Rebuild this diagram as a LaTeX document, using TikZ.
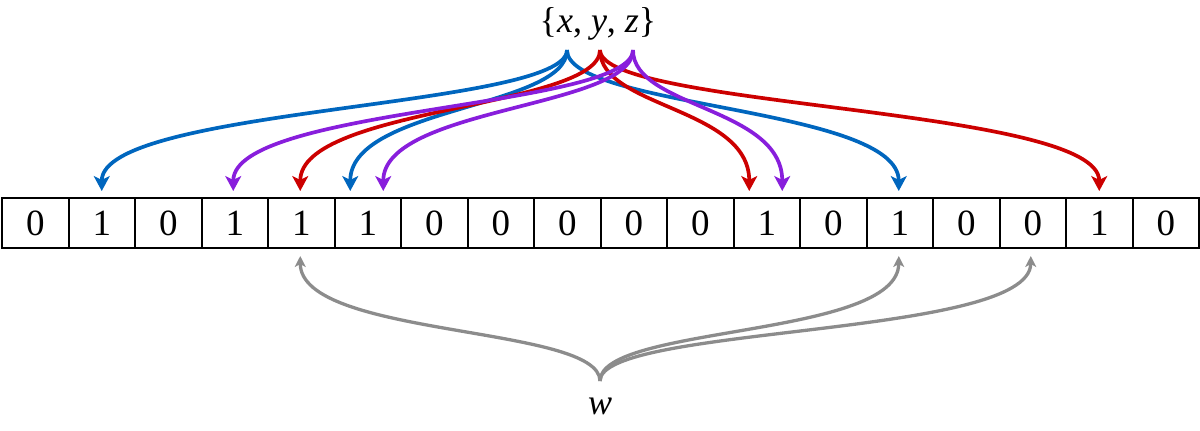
\documentclass[tikz,border=0pt]{standalone}
\usepackage{fontspec}
\setmainfont{Liberation Serif}
\usetikzlibrary{arrows.meta}
\definecolor{hblue}{RGB}{0,102,190}
\definecolor{hred}{RGB}{204,0,0}
\definecolor{hpurple}{RGB}{136,30,220}
\definecolor{hgray}{RGB}{140,140,140}
\tikzset{
  cell/.style={draw=black, line width=2pt, minimum width=66.5pt, minimum height=50pt,
    inner sep=0pt, font=\fontsize{37}{40}\selectfont},
  label/.style={font=\fontsize{36}{40}\selectfont, inner sep=0pt},
  hasharrow/.style={line width=3.7pt, -{Stealth[length=15pt,width=16pt,inset=4pt]}},
  queryarrow/.style={line width=3.3pt, draw=hgray, -{Stealth[length=11pt,width=11pt,inset=3pt]}},
}
\begin{document}
\begin{tikzpicture}[x=1pt,y=-1pt]
\useasboundingbox (0,0) rectangle (1200,431);
\foreach \b [count=\i from 0] in {0,1,0,1,1,1,0,0,0,0,0,1,0,1,0,0,1,0}{
  \node[cell] (c\i) at ({2+66.5*(\i+0.5)},223) {\b};
}
\node[label] (set) at (598,24) {\{\textit{x}, \textit{y}, \textit{z}\}};
\coordinate (sx) at (567,50);
\coordinate (sy) at (600,50);
\coordinate (sz) at (633,50);
\coordinate (w) at (600,381);
\node[label] (wl) at (600,406) {\textit{w}};
% x (blue)
\draw[hasharrow, hblue] (sx) .. controls +(0,58) and +(0,-84) .. ([yshift=6pt]c1.north);
\draw[hasharrow, hblue] (sx) .. controls +(0,58) and +(0,-84) .. ([xshift=-17.5pt,yshift=6pt]c5.north);
\draw[hasharrow, hblue] (sx) .. controls +(0,58) and +(0,-84) .. ([xshift=-1pt,yshift=6pt]c13.north);
% y (red)
\draw[hasharrow, hred] (sy) .. controls +(0,58) and +(0,-84) .. ([xshift=-1pt,yshift=6pt]c4.north);
\draw[hasharrow, hred] (sy) .. controls +(0,58) and +(0,-84) .. ([xshift=-17.5pt,yshift=6pt]c11.north);
\draw[hasharrow, hred] (sy) .. controls +(0,58) and +(0,-84) .. ([yshift=6pt]c16.north);
% z (purple)
\draw[hasharrow, hpurple] (sz) .. controls +(0,58) and +(0,-84) .. ([xshift=-1.5pt,yshift=6pt]c3.north);
\draw[hasharrow, hpurple] (sz) .. controls +(0,58) and +(0,-84) .. ([xshift=15.5pt,yshift=6pt]c5.north);
\draw[hasharrow, hpurple] (sz) .. controls +(0,58) and +(0,-84) .. ([xshift=15.5pt,yshift=6pt]c11.north);
% w (gray)
\draw[queryarrow] (w) .. controls +(0,-56) and +(0,82) .. ([xshift=-1pt,yshift=-7pt]c4.south);
\draw[queryarrow] (w) .. controls +(0,-56) and +(0,82) .. ([xshift=-1pt,yshift=-7pt]c13.south);
\draw[queryarrow] (w) .. controls +(0,-56) and +(0,82) .. ([xshift=-2pt,yshift=-7pt]c15.south);
\end{tikzpicture}
\end{document}
